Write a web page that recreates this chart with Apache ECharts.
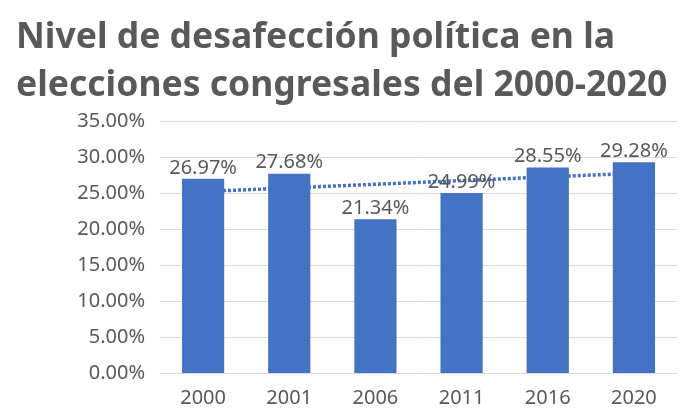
<!DOCTYPE html>
<html>
<head>
<meta charset="utf-8">
<script src="https://cdn.jsdelivr.net/npm/echarts@6/dist/echarts.min.js"></script>
<style>html,body{margin:0;padding:0;background:#fff}#c{width:681px;height:415px}</style>
</head>
<body>
<div id="c"></div>
<script>
const titleText = 'Nivel de desafección política en la\nelecciones congresales del 2000-2020';
const categories = ['2000', '2001', '2006', '2011', '2016', '2020'];
const values = [26.97, 27.68, 21.34, 24.99, 28.55, 29.28];
const yTicks = { min: 0, max: 35, interval: 5 };

// Linear trendline (least squares) through the bar values, as in the source chart
const n = values.length;
const xm = (n + 1) / 2;
const ym = values.reduce((a, b) => a + b, 0) / n;
let sxy = 0, sxx = 0;
values.forEach((v, i) => { const dx = (i + 1) - xm; sxy += dx * (v - ym); sxx += dx * dx; });
const slope = sxy / sxx;
const trend = values.map((v, i) => +(ym + slope * ((i + 1) - xm)).toFixed(3));

const chart = echarts.init(document.getElementById('c'));
const gray = '#595959';
const font = '"Noto Sans", "Open Sans", sans-serif';
chart.setOption({
  animation: false,
  title: {
    text: titleText,
    left: 11, top: 9,
    textStyle: { fontFamily: font, fontWeight: 'bold', fontSize: 35.5, color: gray, lineHeight: 48 }
  },
  grid: { left: 160, right: 4, top: 121, bottom: 42, containLabel: false },
  xAxis: {
    type: 'category', data: categories,
    axisLine: { lineStyle: { color: '#d9d9d9', width: 1 } },
    axisTick: { show: false },
    axisLabel: { color: gray, fontFamily: font, fontSize: 20, margin: 15 }
  },
  yAxis: {
    type: 'value', min: yTicks.min, max: yTicks.max, interval: yTicks.interval,
    axisLine: { show: false }, axisTick: { show: false },
    splitLine: { lineStyle: { color: '#d9d9d9', width: 1 } },
    axisLabel: { color: gray, fontFamily: font, fontSize: 20, margin: 15, formatter: v => v.toFixed(2) + '%' }
  },
  series: [
    {
      type: 'line', data: trend, z: 1, symbol: 'none', silent: true,
      lineStyle: { color: '#4472C4', width: 3.5, type: [3, 2] }
    },
    {
      type: 'bar', data: values, z: 2, barWidth: '49%',
      itemStyle: { color: '#4472C4' },
      label: {
        show: true, position: 'top', distance: 1, color: gray, fontFamily: font, fontSize: 20,
        formatter: p => p.value.toFixed(2) + '%'
      }
    }
  ]
});
</script>
</body>
</html>
